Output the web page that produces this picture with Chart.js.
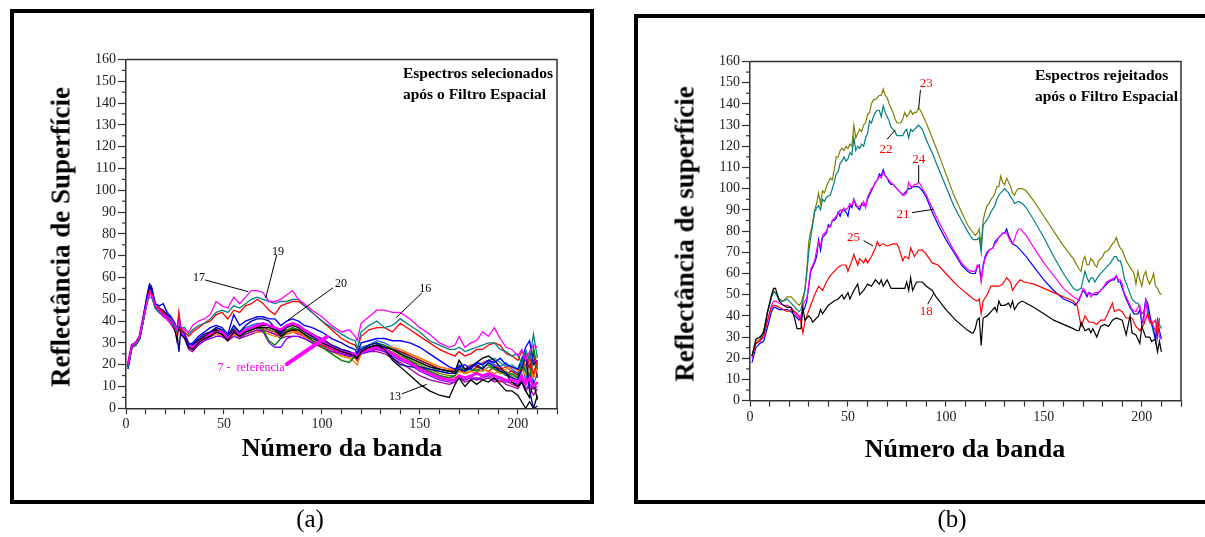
<!DOCTYPE html>
<html><head><meta charset="utf-8">
<script src="https://cdn.jsdelivr.net/npm/chart.js@4.4.0/dist/chart.umd.min.js"></script>
<style>
html,body{margin:0;padding:0;background:#fff;}
body{width:1205px;height:537px;position:relative;overflow:hidden;font-family:"Liberation Serif","Times New Roman",serif;}
.box{position:absolute;border:4px solid #000;box-sizing:border-box;}
canvas{position:absolute;top:0;}
.t{position:absolute;white-space:nowrap;color:#000;line-height:1;}
.ytitle{font-weight:bold;font-size:27px;transform:translate(-50%,-50%) rotate(-90deg);}
.xtitle{font-weight:bold;font-size:26px;transform:translate(-50%,-50%);}
.note{font-weight:bold;font-size:15.5px;line-height:21px;}
.lab{font-size:25px;transform:translateX(-50%);}
</style></head>
<body>
<div class="box" style="left:10px;top:9px;width:584px;height:495px"></div>
<div class="box" style="left:634px;top:14px;width:620px;height:490px"></div>
<canvas id="ca" width="600" height="537" style="left:0"></canvas>
<canvas id="cb" width="571" height="537" style="left:634px"></canvas>
<div class="t ytitle" style="left:61px;top:237px">Reflectância de Superfície</div>
<div class="t xtitle" style="left:342px;top:448px">Número da banda</div>
<div class="t note" style="left:403px;top:62px">Espectros selecionados<br>após o Filtro Espacial</div>
<div class="t ytitle" style="left:685px;top:234px">Reflectância de superfície</div>
<div class="t xtitle" style="left:965px;top:449px">Número da banda</div>
<div class="t note" style="left:1035px;top:64px">Espectros rejeitados<br>após o Filtro Espacial</div>
<div class="t lab" style="left:310px;top:506px">(a)</div>
<div class="t lab" style="left:952px;top:506px">(b)</div>
<script>
const FONT = '"Liberation Serif","Times New Roman",serif';

// ---------- Panel (a): selected spectra, shared band grid ----------
const bandsL = [1,3,5,7,9,11,12,13,15,17,19,21,23,25,26,27,28,
  30,32,34,37,40,43,46,49,52,55,58,61,64,67,70,73,76,79,82,85,88,91,95,
  100,105,110,114,117,118,120,124,128,132,136,140,145,150,155,160,165,168,
  170,173,176,179,182,185,188,191,194,197,200,202,204,206,208,210];

const mag17 = [20,29,30,33,42,50,53,52,47,45,43,42,41,38,36,40,37,
  36,35,38,40,41,43,49,47,46,51,48,51,54,54,53,49,49,50,52,54,50,48,45,
  42,38,35,36,33,31,39,42,45,45,44,44,41,37,34,30,28,29,
  33,28,30,31,35,33,37,32,28,27,24,27,22,26,29,28];
const teal16 = [19,28,29,32,41,49,51,51,46,44,43,42,40,37,35,39,37,
  37,34,36,38,39,41,44,45,44,47,46,48,50,51,50,49,48,49,49,50,50,47,44,
  40,37,34,32,31,27,35,38,40,37,38,41,38,35,31,29,27,27,
  28,26,27,28,29,30,30,27,26,24,25,20,27,22,34,23];
const red19 = [20,29,30,33,42,50,54,53,47,46,44,42,40,37,34,44,36,
  35,33,35,37,39,40,43,44,41,45,44,47,48,50,48,45,43,47,48,49,49,47,44,
  40,36,32,30,29,27,33,36,37,37,35,39,36,33,30,27,25,24,
  26,24,25,27,27,29,30,29,25,24,22,26,24,20,16,22];
const blue20 = [19,29,30,33,43,53,57,56,48,47,48,44,42,39,36,42,37,
  34,29,30,33,35,37,38,37,34,43,38,40,41,42,42,41,41,38,40,41,40,38,37,
  35,32,30,28,27,25,30,31,32,32,31,31,30,28,25,22,19,18,
  19,20,18,21,20,22,21,23,20,19,18,22,28,31,20,22];
const blue2 = [18,28,29,32,41,51,55,55,47,46,45,43,41,38,35,26,36,
  33,28,29,32,34,35,37,36,33,38,35,38,40,41,41,40,37,34,37,39,38,36,34,
  32,29,27,26,25,24,27,29,30,28,23,20,19,19,18,17,16,16,
  18,17,19,20,18,21,19,17,16,14,13,18,25,8,0,1];
const black13 = [19,29,30,32,42,52,56,55,47,46,44,42,40,36,31,40,34,
  32,28,27,30,32,33,35,34,31,35,33,35,36,37,37,37,36,33,35,36,36,34,32,
  30,28,26,25,24,23,26,28,29,27,22,19,15,11,8,6,5,11,
  14,10,13,11,13,12,14,11,8,8,6,3,0,3,0,6];
const black2 = [20,29,30,33,42,51,55,54,47,45,43,41,39,36,33,41,35,
  33,29,28,31,33,34,36,35,33,36,34,36,37,38,38,38,37,35,37,38,37,35,33,
  31,29,27,26,24,23,26,28,29,28,27,25,23,21,19,18,17,17,
  22,18,19,21,23,24,22,19,16,12,10,12,8,5,12,4];
const green = [19,28,29,32,41,50,53,53,46,45,43,42,39,36,34,40,36,
  34,30,29,31,33,34,35,34,32,35,33,35,36,37,36,31,29,32,35,37,36,34,31,
  28,25,22,21,24,25,27,29,30,29,27,25,22,19,17,15,14,15,
  19,17,18,17,19,20,18,17,15,16,14,20,17,12,28,18];
const orange = [20,29,30,33,42,50,53,52,46,45,43,41,39,36,34,39,35,
  33,30,29,31,32,33,34,33,31,34,32,34,35,35,35,34,33,33,34,35,35,33,30,
  28,26,24,23,21,20,25,27,28,28,28,27,25,23,21,19,18,17,
  17,16,17,16,18,17,16,17,18,19,17,18,15,18,14,19];
const purple = [19,28,29,32,41,50,53,52,46,44,43,41,39,36,33,39,35,
  32,28,27,29,31,32,33,33,31,33,32,34,35,36,35,30,28,28,32,33,33,32,30,
  28,26,25,24,24,23,25,26,27,26,24,22,20,17,15,13,12,12,
  14,13,14,13,14,15,13,14,12,12,11,13,9,11,9,10];
const violet = [19,28,29,32,41,50,53,53,46,44,42,41,39,36,33,40,34,
  32,27,26,29,31,33,34,33,32,34,32,33,34,35,36,35,34,32,33,33,33,32,30,
  28,26,25,24,25,24,25,26,26,25,23,21,18,15,13,12,11,12,
  14,12,13,14,13,14,12,13,11,10,9,12,8,10,6,9];
const pink = [20,29,30,33,42,51,54,53,47,45,43,41,39,36,34,41,35,
  33,29,28,30,32,33,35,34,31,35,33,34,35,36,36,35,34,33,34,35,34,33,31,
  29,27,25,24,24,22,25,27,27,26,25,23,21,19,17,15,14,14,
  15,14,15,13,15,16,14,12,13,11,10,14,12,16,9,12];
const olive = [19,28,29,32,41,50,53,52,46,44,43,42,39,37,34,40,36,
  34,29,28,30,32,34,35,35,33,36,34,35,36,37,37,36,35,34,36,37,36,34,31,
  28,26,24,23,23,22,25,27,28,27,26,24,22,20,18,16,15,15,
  17,16,17,18,17,19,18,16,17,15,14,17,20,15,22,17];
const darkred = [20,29,30,33,42,51,54,53,47,46,44,42,40,37,35,41,36,
  34,30,29,31,33,35,36,35,32,36,34,36,37,38,37,36,35,34,36,36,35,33,31,
  29,27,25,24,24,23,26,28,29,28,27,26,24,22,20,18,17,16,
  18,16,17,19,18,17,19,18,16,17,15,19,23,18,25,14];
const blue3 = [19,28,29,32,41,50,54,53,47,45,44,42,40,37,34,41,35,
  32,29,28,31,33,35,37,36,33,37,35,37,38,39,39,38,36,35,38,39,38,36,33,
  30,28,26,25,25,26,28,29,31,30,28,26,24,22,20,18,17,17,
  20,18,19,21,20,22,20,19,21,18,16,21,13,19,11,16];
const magRef = [20,29,30,33,42,51,54,53,47,45,43,41,39,36,34,41,35,
  33,29,28,30,32,34,35,35,32,35,34,36,37,38,39,38,37,36,38,39,38,36,34,
  31,28,26,25,25,24,26,27,28,27,25,23,21,18,16,14,13,13,
  15,14,15,16,15,16,15,14,13,13,12,15,11,14,10,12];
const red2 = [20,29,30,33,42,51,54,53,47,45,44,42,40,37,34,40,36,
  33,29,28,30,32,34,36,35,32,36,33,35,36,37,37,36,35,34,35,36,35,33,31,
  29,27,25,24,23,22,25,27,28,28,27,26,25,23,21,19,18,18,
  19,18,20,19,21,22,20,18,19,17,16,23,19,25,14,21];
const teal2 = [19,28,29,32,41,50,53,52,46,44,43,41,39,36,34,40,35,
  33,29,28,30,32,34,35,34,32,35,33,35,36,37,37,36,35,34,35,36,35,33,31,
  29,27,25,24,24,25,27,28,29,28,27,25,23,21,19,17,16,16,
  20,18,19,21,20,22,23,21,19,20,18,22,17,24,15,20];

// ---------- Panel (b): rejected spectra, [band, value] pairs ----------
const s23 = [[1,21],[3,28],[5,29],[7,33],[9,42],[11,49],[12,52],[13,51],[15,48],[17,47],[19,49],[21,49],[23,47],[25,45],[26,46],[27,49],[28,52],[29,62],[30,75],[31,80],[32,84],[33,90],[34,93],[35,98],[36,93],[37,99],[38,98],[39,101],[41,105],[42,104],[43,109],[44,115],[45,115],[46,118],[47,119],[48,118],[49,120],[50,119],[51,121],[52,120],[53,130],[54,124],[55,126],[56,128],[57,127],[58,130],[59,131],[60,135],[61,136],[62,140],[63,142],[64,142],[65,143],[66,144],[67,144],[68,147],[69,144],[70,143],[71,140],[72,138],[73,136],[74,133],[75,131],[76,131],[77,131],[78,133],[79,136],[80,134],[81,135],[82,137],[83,135],[84,136],[85,136],[86,138],[87,137],[88,135],[90,131],[93,124],[96,117],[100,107],[104,97],[108,89],[111,83],[114,79],[115,78],[116,79],[117,81],[118,73],[119,85],[120,89],[121,92],[122,93],[123,95],[124,96],[125,98],[126,101],[127,101],[128,106],[129,103],[130,102],[131,105],[132,103],[133,101],[134,98],[135,97],[136,99],[137,100],[139,100],[141,99],[145,94],[150,87],[155,80],[160,73],[165,67],[168,62],[169,61],[170,66],[171,68],[172,64],[173,64],[174,67],[175,66],[176,64],[177,63],[178,66],[179,67],[180,68],[181,70],[183,71],[185,74],[186,75],[187,77],[188,74],[189,72],[190,71],[192,66],[194,63],[196,60],[197,55],[198,61],[199,57],[200,54],[201,59],[202,61],[203,57],[204,55],[205,57],[206,60],[207,54],[208,53],[209,51],[210,50]];
const s22 = [[1,21],[3,27],[5,28],[7,33],[9,42],[11,49],[12,51],[13,51],[15,47],[17,47],[19,48],[21,46],[23,44],[25,42],[26,43],[27,47],[28,52],[29,60],[30,70],[31,77],[32,83],[33,89],[34,91],[35,92],[36,90],[37,95],[38,94],[39,96],[41,97],[42,100],[43,103],[44,107],[45,108],[46,112],[47,113],[48,115],[49,113],[50,114],[51,117],[52,116],[53,124],[54,118],[55,120],[56,119],[57,121],[58,120],[59,124],[60,126],[61,132],[62,131],[63,134],[64,136],[65,137],[66,137],[67,134],[68,139],[69,136],[70,134],[71,132],[72,129],[73,128],[74,127],[75,125],[76,125],[77,125],[78,125],[79,127],[80,128],[81,124],[82,128],[83,127],[84,128],[85,129],[86,130],[87,129],[88,128],[90,123],[93,117],[96,110],[100,101],[104,92],[108,85],[111,80],[113,77],[114,76],[115,76],[116,76],[117,77],[118,70],[119,83],[120,84],[122,87],[123,89],[125,92],[126,95],[127,97],[128,98],[129,99],[130,100],[131,99],[132,98],[133,96],[134,95],[135,93],[137,94],[139,93],[141,91],[145,85],[150,77],[155,68],[160,60],[165,53],[167,52],[169,53],[170,57],[171,61],[172,58],[173,56],[174,58],[175,58],[176,56],[178,59],[180,61],[182,63],[184,65],[186,68],[187,68],[188,66],[189,66],[190,63],[191,58],[193,53],[195,48],[197,46],[198,46],[199,44],[200,41],[201,42],[202,47],[203,44],[204,38],[205,36],[206,32],[207,29],[208,38],[209,36],[210,34]];
const s24 = [[1,20],[3,27],[5,28],[7,30],[9,38],[11,45],[12,47],[13,47],[15,46],[17,45],[19,45],[21,44],[23,41],[25,39],[26,40],[27,45],[28,47],[29,48],[30,55],[31,62],[32,64],[33,66],[34,71],[35,75],[36,73],[37,78],[38,79],[39,80],[40,82],[41,82],[42,85],[43,86],[44,87],[45,88],[46,90],[47,89],[48,91],[49,90],[50,91],[51,93],[52,92],[53,95],[54,93],[55,91],[56,92],[57,92],[58,94],[59,91],[60,96],[61,98],[62,100],[63,101],[64,103],[65,104],[66,106],[67,105],[68,108],[69,106],[70,105],[71,104],[72,103],[73,102],[74,101],[75,100],[76,99],[77,98],[78,97],[79,97],[80,98],[81,103],[82,101],[83,101],[84,102],[85,102],[86,103],[87,102],[88,100],[90,97],[93,91],[96,85],[100,78],[104,71],[108,65],[111,62],[113,61],[114,61],[115,61],[116,64],[117,63],[118,56],[119,63],[120,67],[121,69],[122,71],[124,72],[125,74],[126,75],[127,77],[128,78],[129,79],[130,79],[131,79],[132,77],[133,75],[134,74],[135,76],[136,79],[137,81],[138,81],[139,80],[141,78],[145,72],[150,65],[155,59],[160,53],[165,49],[167,48],[168,47],[169,50],[170,53],[171,52],[172,50],[173,51],[174,49],[176,51],[178,51],[180,53],[182,56],[184,57],[186,58],[187,59],[188,57],[189,57],[190,55],[191,51],[193,47],[195,43],[197,42],[198,44],[199,45],[200,38],[201,37],[202,48],[203,40],[204,37],[205,38],[206,35],[207,33],[208,37],[209,30],[210,29]];
const s21 = [[1,18],[3,25],[5,27],[7,28],[9,35],[11,42],[12,44],[13,44],[15,43],[17,43],[19,43],[21,42],[23,40],[25,38],[26,39],[27,42],[28,44],[29,47],[30,54],[31,61],[32,63],[33,65],[34,68],[35,76],[36,71],[37,77],[38,78],[39,79],[40,83],[41,82],[42,85],[43,85],[44,86],[45,89],[46,87],[47,90],[48,90],[49,89],[50,87],[51,92],[52,91],[53,95],[54,92],[55,91],[56,90],[57,93],[58,92],[59,92],[60,95],[61,97],[62,99],[63,101],[64,103],[65,104],[66,107],[67,106],[68,109],[69,106],[70,105],[71,103],[72,102],[73,102],[74,101],[75,100],[76,99],[77,98],[78,97],[79,98],[80,99],[81,100],[82,100],[83,101],[84,101],[85,101],[86,101],[87,100],[88,99],[90,96],[93,89],[96,83],[100,76],[104,70],[108,64],[111,61],[113,60],[114,60],[115,60],[116,63],[117,64],[118,57],[119,64],[120,68],[121,70],[122,71],[124,72],[125,75],[126,76],[127,77],[128,78],[129,79],[130,79],[131,81],[132,78],[133,76],[134,74],[136,73],[138,71],[141,68],[145,63],[150,57],[155,52],[160,48],[165,46],[166,45],[167,46],[169,50],[170,52],[171,51],[172,49],[173,51],[175,50],[177,50],[179,52],[181,54],[183,56],[185,57],[186,57],[187,59],[188,56],[189,56],[190,53],[192,48],[194,44],[196,41],[198,41],[199,43],[200,36],[201,40],[202,48],[203,46],[204,41],[205,36],[206,34],[207,28],[208,38],[209,33],[210,29]];
const s25 = [[1,21],[3,27],[5,28],[7,31],[9,38],[11,44],[12,45],[13,45],[15,44],[17,43],[19,42],[21,43],[23,42],[25,40],[26,37],[27,32],[28,37],[29,40],[31,45],[33,50],[35,54],[37,52],[39,56],[41,59],[43,61],[45,63],[47,64],[49,64],[50,61],[52,66],[53,69],[55,64],[56,67],[58,65],[59,67],[60,65],[62,68],[64,72],[65,75],[66,73],[68,74],[70,73],[73,74],[75,74],[76,72],[78,66],[79,68],[81,67],[82,72],[84,68],[86,71],[88,71],[90,69],[93,65],[96,64],[100,60],[105,55],[110,51],[114,48],[116,47],[117,48],[118,41],[119,47],[121,50],[123,54],[127,54],[129,55],[131,58],[133,56],[134,52],[136,55],[138,57],[140,56],[145,55],[150,53],[155,51],[160,49],[165,47],[167,45],[169,35],[171,40],[173,37],[175,37],[177,36],[179,38],[181,38],[183,42],[185,46],[186,42],[188,43],[190,42],[192,39],[195,39],[197,35],[199,33],[201,36],[203,41],[205,36],[207,38],[208,30],[209,39]];
const s18 = [[1,21],[3,29],[5,30],[7,32],[9,42],[11,50],[12,53],[13,53],[15,47],[17,45],[19,44],[21,44],[23,38],[24,34],[26,34],[27,44],[28,38],[30,40],[31,39],[32,37],[35,40],[36,43],[37,41],[40,45],[43,47],[45,48],[47,50],[48,48],[50,51],[51,48],[53,52],[55,55],[56,50],[58,52],[60,55],[62,54],[64,57],[66,55],[67,57],[68,54],[70,57],[72,53],[75,53],[79,53],[80,56],[81,52],[82,58],[83,52],[85,56],[88,56],[90,54],[93,52],[95,49],[100,43],[105,38],[110,34],[113,32],[114,32],[115,34],[116,38],[117,39],[118,26],[119,39],[121,40],[123,42],[125,44],[126,42],[127,47],[128,45],[130,45],[132,46],[133,44],[134,47],[135,43],[137,46],[139,47],[141,46],[145,44],[150,41],[155,38],[160,36],[165,34],[167,33],[168,33],[169,37],[171,33],[173,34],[174,32],[175,34],[177,30],[179,35],[181,36],[183,35],[185,38],[187,39],[190,38],[192,31],[194,40],[195,32],[197,31],[199,27],[200,35],[202,30],[204,30],[205,28],[207,29],[208,23],[209,28],[210,23]];

// axis ticks
const xTickLabels = [0,50,100,150,200];
const yMax = 160;

function grid(vals){ return bandsL.map((b,i)=>({x:b,y:vals[i]})); }
function pairs(arr){ return arr.map(p=>({x:p[0],y:p[1]})); }
function ds(data,color,w){ return {data, borderColor:color, borderWidth:w||1.2, pointRadius:0, fill:false, tension:0}; }

const dsA = [
  ds(grid(mag17),'#ff00ff',1.3), ds(grid(teal16),'#008080',1.3), ds(grid(red19),'#ff0000',1.3),
  ds(grid(blue20),'#0000ff',1.4), ds(grid(black13),'#000000',1.3), ds(grid(magRef),'#ff00ff',2.6),
  ds(grid(blue2),'#0000a0',1.4), ds(grid(black2),'#000000',1.4), ds(grid(green),'#008000',1.4),
  ds(grid(purple),'#8000ff',1.3), ds(grid(orange),'#ff8000',1.4), ds(grid(violet),'#a000a0',1.3),
  ds(grid(pink),'#ff0080',1.3), ds(grid(olive),'#808000',1.3), ds(grid(darkred),'#a00000',1.3),
  ds(grid(blue3),'#2060ff',1.3), ds(grid(red2),'#ff2020',1.3), ds(grid(teal2),'#00a0a0',1.3)
];
const dsB = [
  ds(pairs(s18),'#000000',1.2), ds(pairs(s25),'#ff0000',1.2), ds(pairs(s24),'#ff00ff',1.2),
  ds(pairs(s21),'#0000ff',1.2), ds(pairs(s22),'#008080',1.2), ds(pairs(s23),'#808000',1.2)
];

// annotations in data units
const notesA = [
  {t:'19', x:77.6, y:71.7, l:[76.9,70.3,71.3,50.5], c:'#000'},
  {t:'17', x:37.3, y:59.8, l:[40.3,58.9,62.4,53.5], c:'#000'},
  {t:'20', x:109.8, y:56.9, l:[105.7,55.3,82.7,40.5], c:'#000'},
  {t:'16', x:152.7, y:55, l:[151,52.9,137.9,41.6], c:'#000'},
  {t:'13', x:137.3, y:5.3, l:[140.8,6.6,153.5,11], c:'#000'},
  {t:'7 -  referência', x:63.8, y:18.5, l:[82.1,20.3,102.5,32.8], c:'#ff00ff', lw:4, lc:'#ff00ff'}
];
const notesB = [
  {t:'23', x:90, y:149.7, l:[87,146.6,86.1,137.9], c:'#ff0000'},
  {t:'22', x:69.4, y:118.3, l:[69.9,123.3,74.2,127.7], c:'#ff0000'},
  {t:'24', x:86.1, y:113.9, l:[86.1,111.2,86.1,102.8], c:'#ff0000'},
  {t:'21', x:78.1, y:87.9, l:[82.7,88.7,93.8,90.3], c:'#ff0000'},
  {t:'25', x:52.8, y:76.9, l:[58,75.5,62.8,73], c:'#ff0000'},
  {t:'18', x:90, y:42, l:[90.7,45.5,93.8,50.7], c:'#ff0000'}
];

function framePlugin(notes, fs){
  return {
    id:'frame',
    afterDraw(chart){
      const {ctx, chartArea:a, scales:{x,y}} = chart;
      ctx.save();
      ctx.strokeStyle='#333'; ctx.lineWidth=1.5;
      ctx.beginPath(); ctx.moveTo(a.left,a.top); ctx.lineTo(a.right,a.top); ctx.lineTo(a.right,a.bottom); ctx.stroke();
      ctx.lineWidth=1.2;
      for(let v=5; v<yMax; v+=10){
        const py=y.getPixelForValue(v);
        ctx.beginPath(); ctx.moveTo(a.left-4,py); ctx.lineTo(a.left,py); ctx.stroke();
      }
      notes.forEach(n=>{
        ctx.strokeStyle = n.lc || '#000'; ctx.lineWidth = n.lw || 1;
        ctx.lineCap = n.lw ? 'round' : 'butt';
        ctx.beginPath();
        ctx.moveTo(x.getPixelForValue(n.l[0]), y.getPixelForValue(n.l[1]));
        ctx.lineTo(x.getPixelForValue(n.l[2]), y.getPixelForValue(n.l[3]));
        ctx.stroke();
        ctx.fillStyle = n.c; ctx.font = fs+'px '+FONT;
        ctx.textAlign='center'; ctx.textBaseline='middle';
        ctx.fillText(n.t, x.getPixelForValue(n.x), y.getPixelForValue(n.y));
      });
      ctx.restore();
    }
  };
}

function makeChart(id, datasets, pad, notes, fs){
  const tickFont = {family:FONT, size:14};
  return new Chart(document.getElementById(id), {
    type:'line',
    data:{datasets},
    options:{
      responsive:false, animation:false, devicePixelRatio:1,
      layout:{padding:pad},
      plugins:{legend:{display:false}, tooltip:{enabled:false}},
      scales:{
        x:{type:'linear', min:0, max:220, afterFit(s){ s.height=30; },
          ticks:{stepSize:10, autoSkip:false, maxRotation:0, padding:2, color:'#222', font:tickFont,
            callback:(v)=> xTickLabels.includes(v) ? String(v) : ''},
          grid:{drawOnChartArea:false, drawTicks:true, tickLength:6, tickColor:'#333', tickWidth:1.2},
          border:{display:true, color:'#333', width:1.5}},
        y:{type:'linear', min:0, max:yMax, afterFit(s){ s.width=46; },
          ticks:{stepSize:10, autoSkip:false, padding:2, color:'#222', font:tickFont},
          grid:{drawOnChartArea:false, drawTicks:true, tickLength:8, tickColor:'#333', tickWidth:1.2},
          border:{display:true, color:'#333', width:1.5}}
      }
    },
    plugins:[framePlugin(notes, fs)]
  });
}

makeChart('ca', dsA, {left:80, top:59.5, right:43, bottom:98.7}, notesA, 12);
makeChart('cb', dsB, {left:70, top:61.5, right:24, bottom:106.3}, notesB, 13);
</script>
</body></html>
